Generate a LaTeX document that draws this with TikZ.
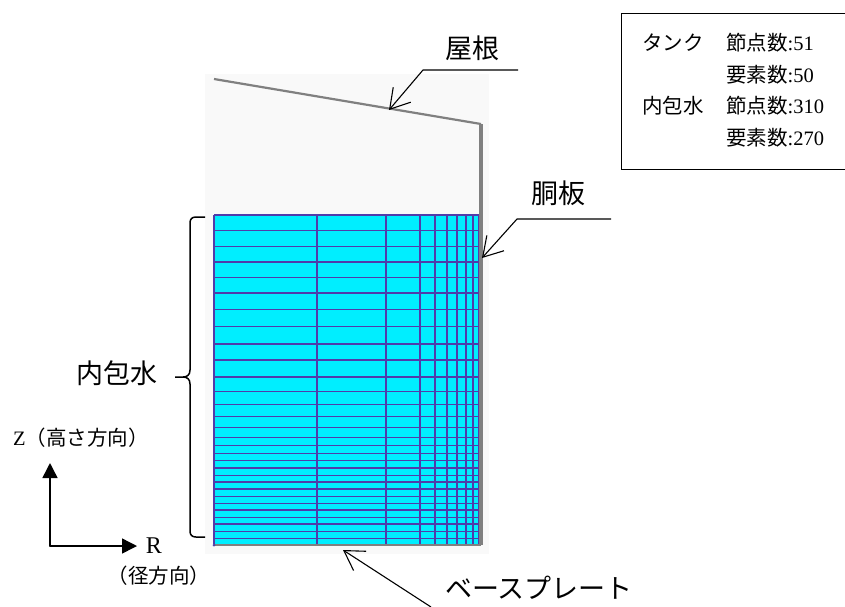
\documentclass[tikz,border=0pt]{standalone}
\usepackage{fontspec}
\setmainfont{Liberation Serif}
\newfontfamily\jpfont{Noto Sans CJK JP}
\usepackage{tikz}
\usetikzlibrary{arrows.meta,positioning}
\definecolor{watercol}{RGB}{0,238,255}
\definecolor{meshcol}{RGB}{80,60,170}
\definecolor{shellcol}{RGB}{128,128,128}
\definecolor{plotcol}{RGB}{249,249,249}

\begin{document}
\begin{tikzpicture}[
		x=1pt,y=-1pt,
		>={Straight Barb[length=19pt,width=23pt]},
		leader/.style={line width=1.1pt},
		shell/.style={draw=shellcol,line width=2.2pt},
		mesh/.style={draw=meshcol,line width=1.25pt},
		axis/.style={-{Triangle[length=15pt,width=15pt]},line width=1.5pt,line cap=round},
		biglabel/.style={font=\jpfont\fontsize{27}{30}\selectfont,inner sep=0pt},
		smalllabel/.style={font=\jpfont\fontsize{20.5}{24}\selectfont,inner sep=0pt,anchor=west}
		]
		\useasboundingbox (0,0) rectangle (845,606);
		
		% Background of the mesh plot
		\fill[plotcol] (205,74) rectangle (489,554);
		
		% Water mesh
		\fill[watercol] (214,215) rectangle (479,544);
		\foreach \r in {214,317,386,420,435,447,457,466,473,479}
		\draw[mesh] (\r,215) -- (\r,544);
		\foreach \z in {215,230.3,246.3,262,277.3,293,309.7,326.7,344,360,377,391.7,404.7,416.7,427.7,437.3,445.3,453.3,460.7,468,475.3,482,489,496.7,503.3,510,517.3,524,531.3,538.3}
		\draw[mesh] (214,\z) -- (479,\z);
		
		% Tank shell
		\coordinate (roofL) at (214,79);
		\coordinate (roofR) at (481,124);
		\coordinate (wallB) at (481,545);
		\coordinate (baseL) at (214,545);
		\draw[shell] (roofL) -- (roofR);
		\draw[shell,line width=3.2pt] (roofR) -- (wallB);
		\draw[shell] (wallB) -- (baseL);
		\fill[meshcol] (baseL) circle (1.5);
		
		% Leader lines
		\node[biglabel] (roof) at (472,48) {屋根};
		\coordinate (roofknee) at (423,70);
		\coordinate (roofend) at (518,70);
		\coordinate (rooftip) at (389,110);
		\draw[->,leader] (roofend) -- (roofknee) -- (rooftip);
		
		\node[biglabel] (wall) at (558,193) {胴板};
		\coordinate (wallknee) at (517,219);
		\coordinate (wallend) at (611,219);
		\coordinate (walltip) at (482,258);
		\draw[->,leader] (wallend) -- (wallknee) -- (walltip);
		
		\node[biglabel] (base) at (539,588) {ベースプレート};
		\coordinate (baseend) at (431,607);
		\coordinate (basetip) at (343,550);
		\draw[->,leader] (baseend) -- (basetip);
		
		% Brace of the water
		\node[biglabel] (water) at (117,373) {内包水};
		\coordinate (bracetop) at (205,217);
		\coordinate (bracebot) at (205,537);
		\coordinate (bracetip) at (175,377);
		\draw[line width=1.5pt] (bracetop) -- (196,217) .. controls (192,217) and (190,219) .. (190,223) -- (190,370)
		.. controls (190,375) and (187,377) .. (183,377) -- (bracetip);
		\draw[line width=1.5pt] (bracebot) -- (196,537) .. controls (192,537) and (190,535) .. (190,531) -- (190,384)
		.. controls (190,379) and (187,377) .. (183,377);
		
		% Axes
		\coordinate (origin) at (50,546);
		\node[smalllabel] (zaxis) at (13,438) {{\rmfamily Z}\jpfont（高さ方向）};
		\node[inner sep=0pt,font=\fontsize{24}{26}\selectfont] (raxis) at (154,546) {R};
		\node[smalllabel,anchor=center] (rname) at (159,576) {（径方向）};
		\coordinate (ztip) at (50,463);
		\coordinate (rtip) at (137,546);
		\draw[axis] (origin) -- (ztip);
		\draw[axis] (origin) -- (rtip);
		
		% Count table
		\node[draw,line width=1pt,minimum width=240pt,minimum height=156pt,anchor=north west,inner sep=0pt] (frame) at (620.7,13) {};
		\node[smalllabel] (tank) at (642,43) {タンク};
		\node[smalllabel] (waterrow) at (642,106) {内包水};
		\node[smalllabel] (tanknodes) at (726,43) {節点数{\rmfamily:51}};
		\node[smalllabel] (tankelems) at (726,75) {要素数{\rmfamily:50}};
		\node[smalllabel] (waternodes) at (726,106) {節点数{\rmfamily:310}};
		\node[smalllabel] (waterelems) at (726,138) {要素数{\rmfamily:270}};
		
		\end{tikzpicture}
\end{document}
